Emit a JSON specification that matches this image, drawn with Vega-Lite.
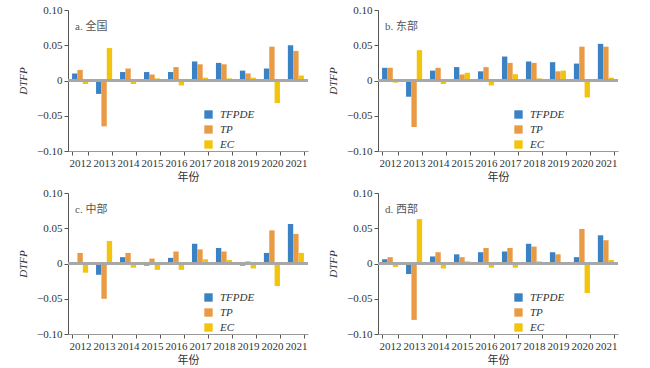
{
  "$schema": "https://vega.github.io/schema/vega-lite/v6.json",
  "padding": {"left": 17, "top": 4, "right": 5, "bottom": 2},
  "background": "white",
  "config": {
    "font": "Liberation Serif",
    "view": {"stroke": null},
    "axis": {"labelFont": "Liberation Serif", "labelFontSize": 11, "labelColor": "#333", "titleFontWeight": "normal", "titleColor": "#333", "grid": false, "tickColor": "#555", "domainColor": "#555", "tickSize": 4},
    "legend": {"labelFont": "Liberation Serif", "labelFontSize": 11, "labelFontStyle": "italic", "labelColor": "#333"},
    "title": {"font": "Liberation Serif, Noto Sans CJK SC", "fontSize": 11, "fontWeight": "normal", "color": "#555"},
    "bar": {"stroke": null}
  },
  "data": {"values": [
    {"region":"全国","year":"2012","type":"TFPDE","value":0.010},{"region":"全国","year":"2012","type":"TP","value":0.015},{"region":"全国","year":"2012","type":"EC","value":-0.005},
    {"region":"全国","year":"2013","type":"TFPDE","value":-0.019},{"region":"全国","year":"2013","type":"TP","value":-0.065},{"region":"全国","year":"2013","type":"EC","value":0.046},
    {"region":"全国","year":"2014","type":"TFPDE","value":0.012},{"region":"全国","year":"2014","type":"TP","value":0.017},{"region":"全国","year":"2014","type":"EC","value":-0.005},
    {"region":"全国","year":"2015","type":"TFPDE","value":0.012},{"region":"全国","year":"2015","type":"TP","value":0.0085},{"region":"全国","year":"2015","type":"EC","value":0.003},
    {"region":"全国","year":"2016","type":"TFPDE","value":0.012},{"region":"全国","year":"2016","type":"TP","value":0.019},{"region":"全国","year":"2016","type":"EC","value":-0.007},
    {"region":"全国","year":"2017","type":"TFPDE","value":0.027},{"region":"全国","year":"2017","type":"TP","value":0.023},{"region":"全国","year":"2017","type":"EC","value":0.004},
    {"region":"全国","year":"2018","type":"TFPDE","value":0.025},{"region":"全国","year":"2018","type":"TP","value":0.023},{"region":"全国","year":"2018","type":"EC","value":0.003},
    {"region":"全国","year":"2019","type":"TFPDE","value":0.014},{"region":"全国","year":"2019","type":"TP","value":0.010},{"region":"全国","year":"2019","type":"EC","value":0.004},
    {"region":"全国","year":"2020","type":"TFPDE","value":0.017},{"region":"全国","year":"2020","type":"TP","value":0.048},{"region":"全国","year":"2020","type":"EC","value":-0.032},
    {"region":"全国","year":"2021","type":"TFPDE","value":0.050},{"region":"全国","year":"2021","type":"TP","value":0.042},{"region":"全国","year":"2021","type":"EC","value":0.007},

    {"region":"东部","year":"2012","type":"TFPDE","value":0.018},{"region":"东部","year":"2012","type":"TP","value":0.018},{"region":"东部","year":"2012","type":"EC","value":-0.003},
    {"region":"东部","year":"2013","type":"TFPDE","value":-0.023},{"region":"东部","year":"2013","type":"TP","value":-0.066},{"region":"东部","year":"2013","type":"EC","value":0.043},
    {"region":"东部","year":"2014","type":"TFPDE","value":0.014},{"region":"东部","year":"2014","type":"TP","value":0.018},{"region":"东部","year":"2014","type":"EC","value":-0.005},
    {"region":"东部","year":"2015","type":"TFPDE","value":0.019},{"region":"东部","year":"2015","type":"TP","value":0.0085},{"region":"东部","year":"2015","type":"EC","value":0.011},
    {"region":"东部","year":"2016","type":"TFPDE","value":0.013},{"region":"东部","year":"2016","type":"TP","value":0.019},{"region":"东部","year":"2016","type":"EC","value":-0.007},
    {"region":"东部","year":"2017","type":"TFPDE","value":0.034},{"region":"东部","year":"2017","type":"TP","value":0.025},{"region":"东部","year":"2017","type":"EC","value":0.009},
    {"region":"东部","year":"2018","type":"TFPDE","value":0.027},{"region":"东部","year":"2018","type":"TP","value":0.025},{"region":"东部","year":"2018","type":"EC","value":0.003},
    {"region":"东部","year":"2019","type":"TFPDE","value":0.026},{"region":"东部","year":"2019","type":"TP","value":0.013},{"region":"东部","year":"2019","type":"EC","value":0.014},
    {"region":"东部","year":"2020","type":"TFPDE","value":0.024},{"region":"东部","year":"2020","type":"TP","value":0.048},{"region":"东部","year":"2020","type":"EC","value":-0.024},
    {"region":"东部","year":"2021","type":"TFPDE","value":0.052},{"region":"东部","year":"2021","type":"TP","value":0.048},{"region":"东部","year":"2021","type":"EC","value":0.004},

    {"region":"中部","year":"2012","type":"TFPDE","value":0.002},{"region":"中部","year":"2012","type":"TP","value":0.015},{"region":"中部","year":"2012","type":"EC","value":-0.013},
    {"region":"中部","year":"2013","type":"TFPDE","value":-0.016},{"region":"中部","year":"2013","type":"TP","value":-0.050},{"region":"中部","year":"2013","type":"EC","value":0.032},
    {"region":"中部","year":"2014","type":"TFPDE","value":0.009},{"region":"中部","year":"2014","type":"TP","value":0.015},{"region":"中部","year":"2014","type":"EC","value":-0.006},
    {"region":"中部","year":"2015","type":"TFPDE","value":-0.003},{"region":"中部","year":"2015","type":"TP","value":0.007},{"region":"中部","year":"2015","type":"EC","value":-0.009},
    {"region":"中部","year":"2016","type":"TFPDE","value":0.008},{"region":"中部","year":"2016","type":"TP","value":0.017},{"region":"中部","year":"2016","type":"EC","value":-0.009},
    {"region":"中部","year":"2017","type":"TFPDE","value":0.028},{"region":"中部","year":"2017","type":"TP","value":0.020},{"region":"中部","year":"2017","type":"EC","value":0.006},
    {"region":"中部","year":"2018","type":"TFPDE","value":0.022},{"region":"中部","year":"2018","type":"TP","value":0.017},{"region":"中部","year":"2018","type":"EC","value":0.005},
    {"region":"中部","year":"2019","type":"TFPDE","value":-0.003},{"region":"中部","year":"2019","type":"TP","value":0.003},{"region":"中部","year":"2019","type":"EC","value":-0.007},
    {"region":"中部","year":"2020","type":"TFPDE","value":0.015},{"region":"中部","year":"2020","type":"TP","value":0.047},{"region":"中部","year":"2020","type":"EC","value":-0.032},
    {"region":"中部","year":"2021","type":"TFPDE","value":0.056},{"region":"中部","year":"2021","type":"TP","value":0.042},{"region":"中部","year":"2021","type":"EC","value":0.015},

    {"region":"西部","year":"2012","type":"TFPDE","value":0.006},{"region":"西部","year":"2012","type":"TP","value":0.009},{"region":"西部","year":"2012","type":"EC","value":-0.005},
    {"region":"西部","year":"2013","type":"TFPDE","value":-0.015},{"region":"西部","year":"2013","type":"TP","value":-0.080},{"region":"西部","year":"2013","type":"EC","value":0.063},
    {"region":"西部","year":"2014","type":"TFPDE","value":0.010},{"region":"西部","year":"2014","type":"TP","value":0.016},{"region":"西部","year":"2014","type":"EC","value":-0.007},
    {"region":"西部","year":"2015","type":"TFPDE","value":0.013},{"region":"西部","year":"2015","type":"TP","value":0.009},{"region":"西部","year":"2015","type":"EC","value":0.003},
    {"region":"西部","year":"2016","type":"TFPDE","value":0.016},{"region":"西部","year":"2016","type":"TP","value":0.022},{"region":"西部","year":"2016","type":"EC","value":-0.006},
    {"region":"西部","year":"2017","type":"TFPDE","value":0.017},{"region":"西部","year":"2017","type":"TP","value":0.022},{"region":"西部","year":"2017","type":"EC","value":-0.006},
    {"region":"西部","year":"2018","type":"TFPDE","value":0.028},{"region":"西部","year":"2018","type":"TP","value":0.024},{"region":"西部","year":"2018","type":"EC","value":0.003},
    {"region":"西部","year":"2019","type":"TFPDE","value":0.016},{"region":"西部","year":"2019","type":"TP","value":0.013},{"region":"西部","year":"2019","type":"EC","value":0.002},
    {"region":"西部","year":"2020","type":"TFPDE","value":0.009},{"region":"西部","year":"2020","type":"TP","value":0.049},{"region":"西部","year":"2020","type":"EC","value":-0.042},
    {"region":"西部","year":"2021","type":"TFPDE","value":0.040},{"region":"西部","year":"2021","type":"TP","value":0.033},{"region":"西部","year":"2021","type":"EC","value":0.005}
  ]},
  "columns": 2,
  "spacing": {"column": 18, "row": 5},
  "resolve": {"legend": {"color": "independent"}},
  "concat": [
    {
      "width": 240, "height": 141,
      "title": {"text": "a. 全国", "anchor": "start", "frame": "group", "offset": -24, "dx": 7, "dy": 4},
      "transform": [{"filter": "datum.region == '全国'"}],
      "encoding": {
        "y": {"field": "value", "type": "quantitative", "scale": {"domain": [-0.1, 0.1], "nice": false}, "axis": {"title": "DTFP", "titleFontStyle": "italic", "titleFont": "Liberation Serif", "titleFontSize": 11, "values": [-0.1, -0.05, 0, 0.05, 0.1], "labelExpr": "datum.value == 0 ? '0' : format(datum.value, '.2f')", "titlePadding": 8}}
      },
      "layer": [
        {"mark": {"type": "bar"},
         "encoding": {
           "x": {"field": "year", "type": "nominal", "scale": {"paddingInner": 0.33, "paddingOuter": 0.17}, "axis": {"title": "年份", "titleFont": "Noto Sans CJK SC", "titleFontSize": 11, "titlePadding": 3, "labelAngle": 0, "tickBand": "extent", "domainColor": "#999", "labelPadding": 2}},
           "xOffset": {"field": "type", "type": "nominal", "sort": ["TFPDE", "TP", "EC"]},
           "color": {"field": "type", "type": "nominal", "scale": {"domain": ["TFPDE", "TP", "EC"], "range": ["#3a82c4", "#e99a45", "#f2c40c"]}, "legend": {"title": null, "orient": "none", "legendX": 135, "legendY": 99, "symbolType": "square", "symbolSize": 70, "symbolStrokeWidth": 0, "rowPadding": 3, "labelOffset": 6}}
         }},
        {"mark": {"type": "rule", "color": "#a8a8a8", "strokeWidth": 1.5}, "encoding": {"y": {"datum": 0}}}
      ]
    },
    {
      "width": 240, "height": 141,
      "title": {"text": "b. 东部", "anchor": "start", "frame": "group", "offset": -24, "dx": 7, "dy": 4},
      "transform": [{"filter": "datum.region == '东部'"}],
      "encoding": {
        "y": {"field": "value", "type": "quantitative", "scale": {"domain": [-0.1, 0.1], "nice": false}, "axis": {"title": "DTFP", "titleFontStyle": "italic", "titleFont": "Liberation Serif", "titleFontSize": 11, "values": [-0.1, -0.05, 0, 0.05, 0.1], "labelExpr": "datum.value == 0 ? '0' : format(datum.value, '.2f')", "titlePadding": 8}}
      },
      "layer": [
        {"mark": {"type": "bar"},
         "encoding": {
           "x": {"field": "year", "type": "nominal", "scale": {"paddingInner": 0.33, "paddingOuter": 0.17}, "axis": {"title": "年份", "titleFont": "Noto Sans CJK SC", "titleFontSize": 11, "titlePadding": 3, "labelAngle": 0, "tickBand": "extent", "domainColor": "#999", "labelPadding": 2}},
           "xOffset": {"field": "type", "type": "nominal", "sort": ["TFPDE", "TP", "EC"]},
           "color": {"field": "type", "type": "nominal", "scale": {"domain": ["TFPDE", "TP", "EC"], "range": ["#3a82c4", "#e99a45", "#f2c40c"]}, "legend": {"title": null, "orient": "none", "legendX": 135, "legendY": 99, "symbolType": "square", "symbolSize": 70, "symbolStrokeWidth": 0, "rowPadding": 3, "labelOffset": 6}}
         }},
        {"mark": {"type": "rule", "color": "#a8a8a8", "strokeWidth": 1.5}, "encoding": {"y": {"datum": 0}}}
      ]
    },
    {
      "width": 240, "height": 141,
      "title": {"text": "c. 中部", "anchor": "start", "frame": "group", "offset": -24, "dx": 7, "dy": 4},
      "transform": [{"filter": "datum.region == '中部'"}],
      "encoding": {
        "y": {"field": "value", "type": "quantitative", "scale": {"domain": [-0.1, 0.1], "nice": false}, "axis": {"title": "DTFP", "titleFontStyle": "italic", "titleFont": "Liberation Serif", "titleFontSize": 11, "values": [-0.1, -0.05, 0, 0.05, 0.1], "labelExpr": "datum.value == 0 ? '0' : format(datum.value, '.2f')", "titlePadding": 8}}
      },
      "layer": [
        {"mark": {"type": "bar"},
         "encoding": {
           "x": {"field": "year", "type": "nominal", "scale": {"paddingInner": 0.33, "paddingOuter": 0.17}, "axis": {"title": "年份", "titleFont": "Noto Sans CJK SC", "titleFontSize": 11, "titlePadding": 3, "labelAngle": 0, "tickBand": "extent", "domainColor": "#999", "labelPadding": 2}},
           "xOffset": {"field": "type", "type": "nominal", "sort": ["TFPDE", "TP", "EC"]},
           "color": {"field": "type", "type": "nominal", "scale": {"domain": ["TFPDE", "TP", "EC"], "range": ["#3a82c4", "#e99a45", "#f2c40c"]}, "legend": {"title": null, "orient": "none", "legendX": 135, "legendY": 99, "symbolType": "square", "symbolSize": 70, "symbolStrokeWidth": 0, "rowPadding": 3, "labelOffset": 6}}
         }},
        {"mark": {"type": "rule", "color": "#a8a8a8", "strokeWidth": 1.5}, "encoding": {"y": {"datum": 0}}}
      ]
    },
    {
      "width": 240, "height": 141,
      "title": {"text": "d. 西部", "anchor": "start", "frame": "group", "offset": -24, "dx": 7, "dy": 4},
      "transform": [{"filter": "datum.region == '西部'"}],
      "encoding": {
        "y": {"field": "value", "type": "quantitative", "scale": {"domain": [-0.1, 0.1], "nice": false}, "axis": {"title": "DTFP", "titleFontStyle": "italic", "titleFont": "Liberation Serif", "titleFontSize": 11, "values": [-0.1, -0.05, 0, 0.05, 0.1], "labelExpr": "datum.value == 0 ? '0' : format(datum.value, '.2f')", "titlePadding": 8}}
      },
      "layer": [
        {"mark": {"type": "bar"},
         "encoding": {
           "x": {"field": "year", "type": "nominal", "scale": {"paddingInner": 0.33, "paddingOuter": 0.17}, "axis": {"title": "年份", "titleFont": "Noto Sans CJK SC", "titleFontSize": 11, "titlePadding": 3, "labelAngle": 0, "tickBand": "extent", "domainColor": "#999", "labelPadding": 2}},
           "xOffset": {"field": "type", "type": "nominal", "sort": ["TFPDE", "TP", "EC"]},
           "color": {"field": "type", "type": "nominal", "scale": {"domain": ["TFPDE", "TP", "EC"], "range": ["#3a82c4", "#e99a45", "#f2c40c"]}, "legend": {"title": null, "orient": "none", "legendX": 135, "legendY": 99, "symbolType": "square", "symbolSize": 70, "symbolStrokeWidth": 0, "rowPadding": 3, "labelOffset": 6}}
         }},
        {"mark": {"type": "rule", "color": "#a8a8a8", "strokeWidth": 1.5}, "encoding": {"y": {"datum": 0}}}
      ]
    }
  ]
}
